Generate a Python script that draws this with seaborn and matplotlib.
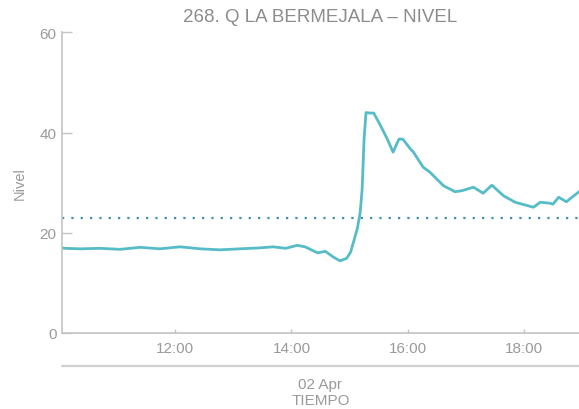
import matplotlib
matplotlib.use("Agg")
import matplotlib.pyplot as plt
import matplotlib.dates as mdates
import seaborn as sns
import pandas as pd

# ---- data ----
times = ["10:03", "10:06", "10:22", "10:42", "11:03", "11:24", "11:44", "12:05",
         "12:26", "12:46", "13:07", "13:28", "13:41", "13:54", "14:06", "14:14",
         "14:27", "14:35", "14:43", "14:50", "14:57", "15:01", "15:08", "15:11",
         "15:13", "15:15", "15:17", "15:21", "15:25", "15:32", "15:39", "15:45",
         "15:51", "15:55", "16:03", "16:06", "16:16", "16:23", "16:37", "16:49",
         "16:56", "17:08", "17:18", "17:27", "17:39", "17:51", "18:10", "18:17",
         "18:27", "18:30", "18:36", "18:44", "18:57"]
nivel = [17.0, 16.9, 16.8, 16.9, 16.7, 17.1, 16.8, 17.2,
         16.8, 16.6, 16.8, 17.0, 17.2, 16.9, 17.5, 17.2,
         16.0, 16.3, 15.2, 14.4, 14.9, 16.1, 20.8, 24.1,
         28.7, 38.7, 44.0, 43.9, 43.9, 41.4, 38.7, 36.1,
         38.7, 38.7, 36.7, 36.1, 33.1, 32.1, 29.4, 28.2,
         28.4, 29.1, 27.9, 29.5, 27.4, 26.1, 25.1, 26.1,
         25.9, 25.7, 27.1, 26.2, 28.2]
threshold = 22.9
date = "2024-04-02"
title = "268. Q LA BERMEJALA \u2013 NIVEL"
ylabel = "Nivel"
xlabel = "TIEMPO"
date_label = "02 Apr"
yticks = [0, 20, 40, 60]

df = pd.DataFrame({"tiempo": pd.to_datetime([f"{date} {t}" for t in times]),
                   "nivel": nivel})

sns.set_style("white")
plt.rcParams["font.family"] = ["Liberation Sans", "DejaVu Sans"]

W, H = 579, 410
fig = plt.figure(figsize=(W / 100, H / 100), dpi=100)
ax = fig.add_axes([62 / W, 1 - 334 / H, 1 - 62 / W, (334 - 33.4) / H])

sns.lineplot(data=df, x="tiempo", y="nivel", ax=ax, color="#56bcc8",
             linewidth=2.0, solid_joinstyle="round")
ax.axhline(threshold, color="#3f8fa8", linewidth=1.6, linestyle=(0, (1, 3.2)))

ax.set_xlim(df["tiempo"].iloc[0], df["tiempo"].iloc[-1])
ax.set_ylim(0, 60)
ax.set_yticks(yticks)
ax.xaxis.set_major_locator(mdates.HourLocator(byhour=[12, 14, 16, 18]))
ax.xaxis.set_major_formatter(mdates.DateFormatter("%H:%M"))

grey_txt = "#9a9a9a"
spine_c = "#c4c4c4"
for s in ["top", "right"]:
    ax.spines[s].set_visible(False)
for s in ["left", "bottom"]:
    ax.spines[s].set_color(spine_c)
    ax.spines[s].set_linewidth(1.2)
ax.tick_params(axis="y", direction="in", length=7, width=1.0, color=spine_c,
               labelsize=11, labelcolor=grey_txt, pad=4, left=True)
ax.tick_params(axis="x", direction="in", length=3, width=1.0, color=spine_c,
               labelsize=11, labelcolor=grey_txt, pad=6, bottom=True)
ax.set_xlabel("")
ax.set_ylabel("")

fig.text(20 / W, 1 - 184 / H, ylabel, rotation=90, ha="center", va="center",
         fontsize=10.5, color=grey_txt)
cx = (62 + 579) / 2 / W
fig.text(cx, 1 - 18 / H, title, ha="center", va="center", fontsize=13.5,
         color="#8c8c8c")
fig.add_artist(plt.Line2D([62 / W, 1.0], [1 - 366.7 / H] * 2, color="#cfcfcf",
                          linewidth=1.6, transform=fig.transFigure))
fig.text(cx, 1 - 385 / H, date_label, ha="center", va="center", fontsize=11,
         color=grey_txt)
fig.text(cx, 1 - 401 / H, xlabel, ha="center", va="center", fontsize=11,
         color=grey_txt)

fig.savefig("out.png", dpi=100)
